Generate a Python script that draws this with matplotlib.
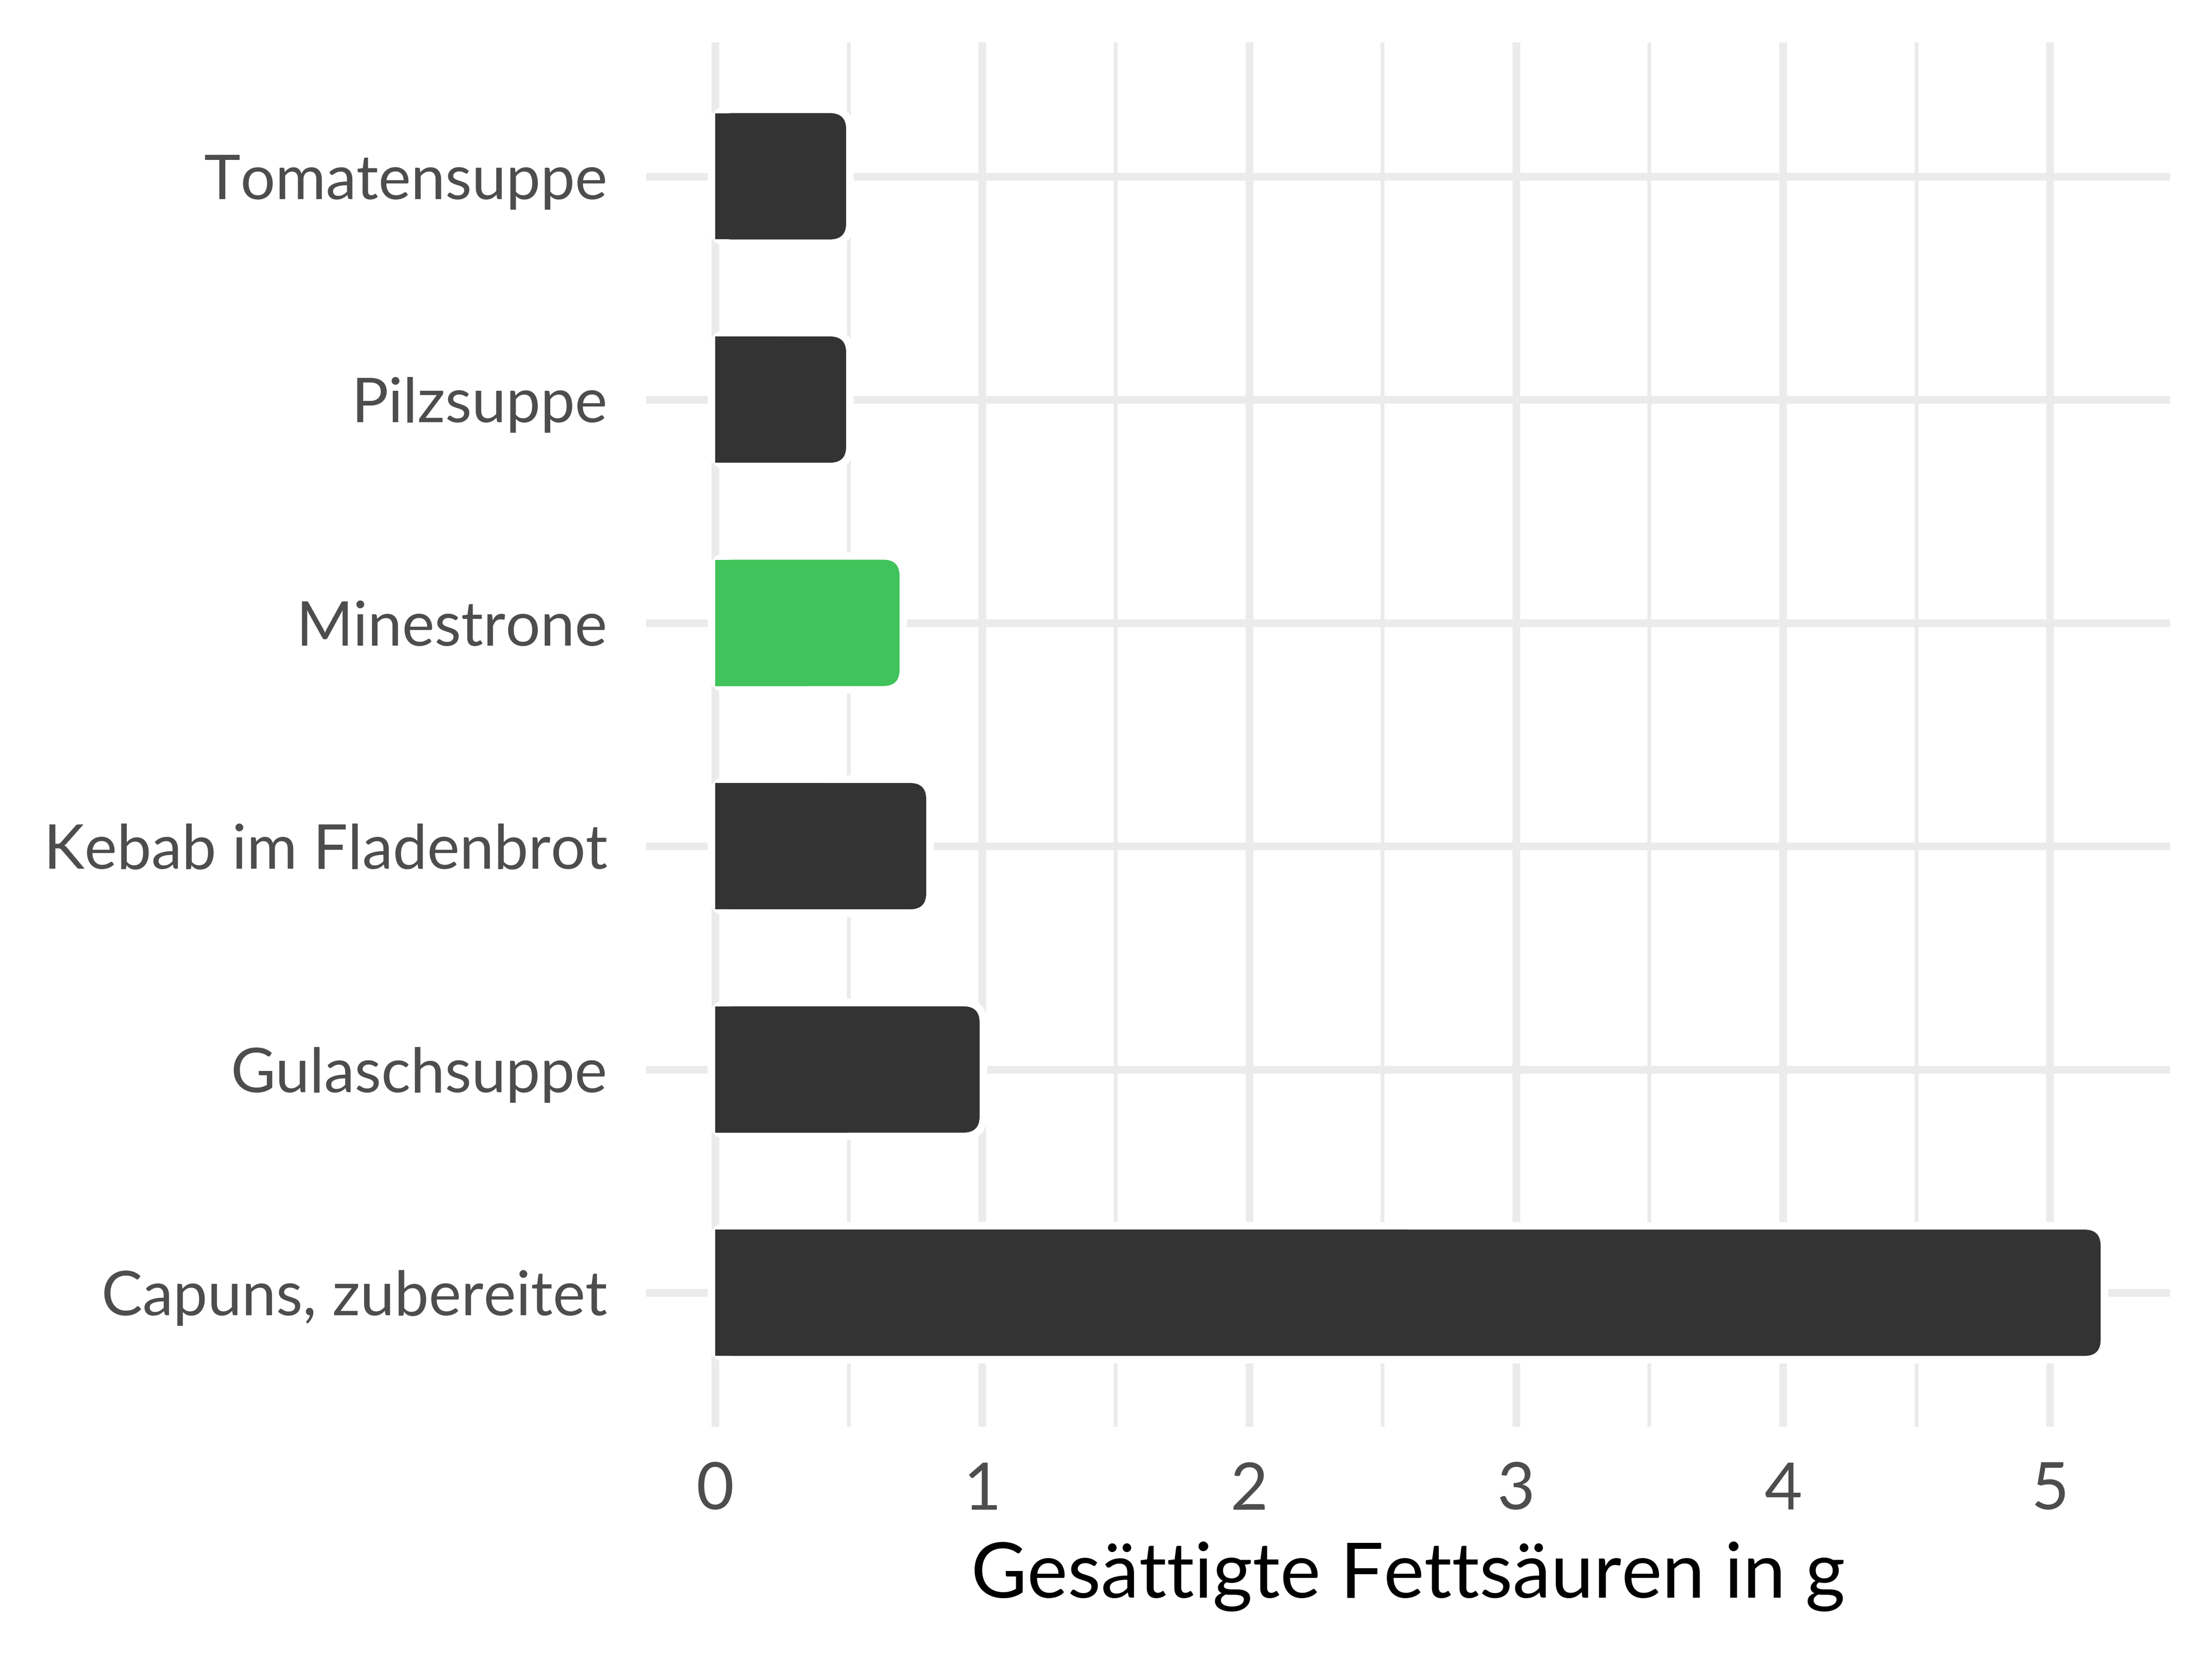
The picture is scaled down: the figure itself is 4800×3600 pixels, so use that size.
import matplotlib
matplotlib.use("Agg")
import matplotlib.pyplot as plt
from matplotlib.patches import FancyBboxPatch
import matplotlib.patheffects as pe

# data, bottom to top as drawn
foods = ["Capuns, zubereitet", "Gulaschsuppe", "Kebab im Fladenbrot",
         "Minestrone", "Pilzsuppe", "Tomatensuppe"]
values = [5.19, 0.99, 0.79, 0.69, 0.49, 0.49]
highlight = "Minestrone"
xticks = [0, 1, 2, 3, 4, 5]

plt.rcParams['font.family'] = ['Lato', 'DejaVu Sans']

fig = plt.figure(figsize=(16, 12), dpi=300)
ax = fig.add_axes([0.292, 0.140, 0.689, 0.8345])

bar_h = 0.565
r = 0.06
for i, (name, v) in enumerate(zip(foods, values)):
    col = "#3FC35A" if name == highlight else "#333333"
    box = FancyBboxPatch((0, i - bar_h / 2), v, bar_h,
                         boxstyle="round,pad=0,rounding_size=%g" % r,
                         mutation_aspect=1.19, facecolor=col, edgecolor="none",
                         zorder=3)
    box.set_path_effects([pe.withStroke(linewidth=8, foreground="white"), pe.Normal()])
    ax.add_patch(box)
    ax.barh(i, v / 2, height=bar_h, color=col, zorder=4, linewidth=0)

ax.set_xlim(-0.26, 5.45)
ax.set_ylim(-0.6, len(foods) - 0.4)
ax.set_yticks(range(len(foods)))
ax.set_yticklabels(foods)
ax.set_xticks(xticks)
ax.set_xticks([0.5, 1.5, 2.5, 3.5, 4.5], minor=True)

ax.grid(True, which="major", color="#EBEBEB", linewidth=4, zorder=0)
ax.grid(True, which="minor", axis="x", color="#EBEBEB", linewidth=2, zorder=0)
ax.set_axisbelow(True)
for s in ax.spines.values():
    s.set_visible(False)
ax.tick_params(which="both", length=0)
ax.tick_params(axis="y", labelsize=32, labelcolor="#4D4D4D", pad=20)
ax.tick_params(axis="x", labelsize=34, labelcolor="#4D4D4D", pad=18)

ax.set_xlabel("Gesättigte Fettsäuren in g", fontsize=40, color="black", labelpad=11)

fig.savefig("out.png", dpi=300, facecolor="white")
